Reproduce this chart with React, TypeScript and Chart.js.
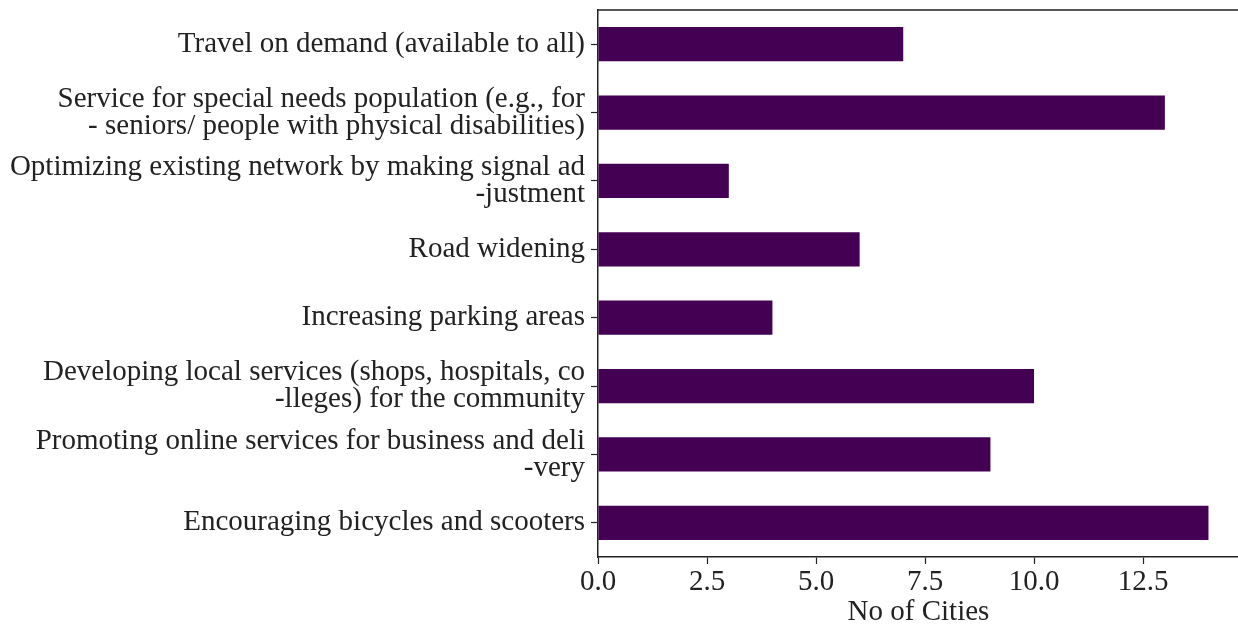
import React, { useEffect, useRef } from "react";
import { Chart, registerables } from "chart.js";

Chart.register(...registerables);

const categories: (string | string[])[] = [
  "Travel on demand (available to all)",
  ["Service for special needs population (e.g., for", "- seniors/ people with physical disabilities)"],
  ["Optimizing existing network by making signal ad", "-justment"],
  "Road widening",
  "Increasing parking areas",
  ["Developing local services (shops, hospitals, co", "-lleges) for the community"],
  ["Promoting online services for business and deli", "-very"],
  "Encouraging bicycles and scooters",
];
const cityCounts = [7, 13, 3, 6, 4, 10, 9, 14];
const xTickValues = [0, 2.5, 5, 7.5, 10, 12.5];
const xAxisTitle = "No of Cities";
const xMax = 14.7;

const FONT = "'Liberation Serif', 'Times New Roman', serif";
const FS = 29;

export default function App() {
  const ref = useRef<HTMLCanvasElement | null>(null);
  useEffect(() => {
    if (!ref.current) return;
    const framePlugin = {
      id: "frame",
      afterDraw(chart: any) {
        const { ctx, chartArea } = chart;
        ctx.save();
        ctx.strokeStyle = "#222";
        ctx.lineWidth = 1.5;
        ctx.beginPath();
        ctx.moveTo(chartArea.left, chartArea.top);
        ctx.lineTo(chartArea.right, chartArea.top);
        ctx.lineTo(chartArea.right, chartArea.bottom);
        ctx.stroke();
        ctx.restore();
      },
    };
    const chart = new Chart(ref.current, {
      type: "bar",
      data: {
        labels: categories,
        datasets: [
          {
            data: cityCounts,
            backgroundColor: "#440154",
            barPercentage: 0.5,
            categoryPercentage: 1,
          },
        ],
      },
      plugins: [framePlugin],
      options: {
        indexAxis: "y",
        animation: false,
        responsive: false,
        layout: { padding: { left: 0, top: 10, right: 3, bottom: 0 } },
        plugins: { legend: { display: false }, tooltip: { enabled: false } },
        scales: {
          x: {
            min: 0,
            max: xMax,
            afterBuildTicks: (scale: any) => {
              scale.ticks = xTickValues.map((v) => ({ value: v }));
            },
            afterFit: (scale: any) => {
              scale.height = 70;
              scale.paddingLeft = 0;
              scale.paddingRight = 0;
            },
            border: { display: true, color: "#222", width: 1.5 },
            grid: { drawOnChartArea: false, drawTicks: true, tickLength: 7, color: "#222", tickWidth: 1.2 },
            ticks: {
              color: "#222",
              font: { family: FONT, size: FS, lineHeight: 1.0 },
              padding: 4,
              maxRotation: 0,
              callback: (v: any) => Number(v).toFixed(1),
            },
            title: {
              display: true,
              text: xAxisTitle,
              color: "#222",
              font: { family: FONT, size: FS, lineHeight: 1.0 },
              padding: { top: 2, bottom: 0 },
            },
          },
          y: {
            afterFit: (scale: any) => {
              scale.width = 598;
              scale.paddingTop = 0;
              scale.paddingBottom = 0;
            },
            border: { display: true, color: "#222", width: 1.5 },
            grid: { offset: false, drawOnChartArea: false, drawTicks: true, tickLength: 7, color: "#222", tickWidth: 1.2 },
            ticks: {
              color: "#222",
              font: { family: FONT, size: FS, lineHeight: 0.93 },
              padding: 6,
              autoSkip: false,
            },
          },
        },
      },
    });
    return () => chart.destroy();
  }, []);
  return (
    <div style={{ position: "absolute", left: 0, top: 0, width: 1238, height: 627, overflow: "hidden", background: "#fff" }}>
      <canvas ref={ref} width={1242} height={627} style={{ display: "block" }} />
    </div>
  );
}
